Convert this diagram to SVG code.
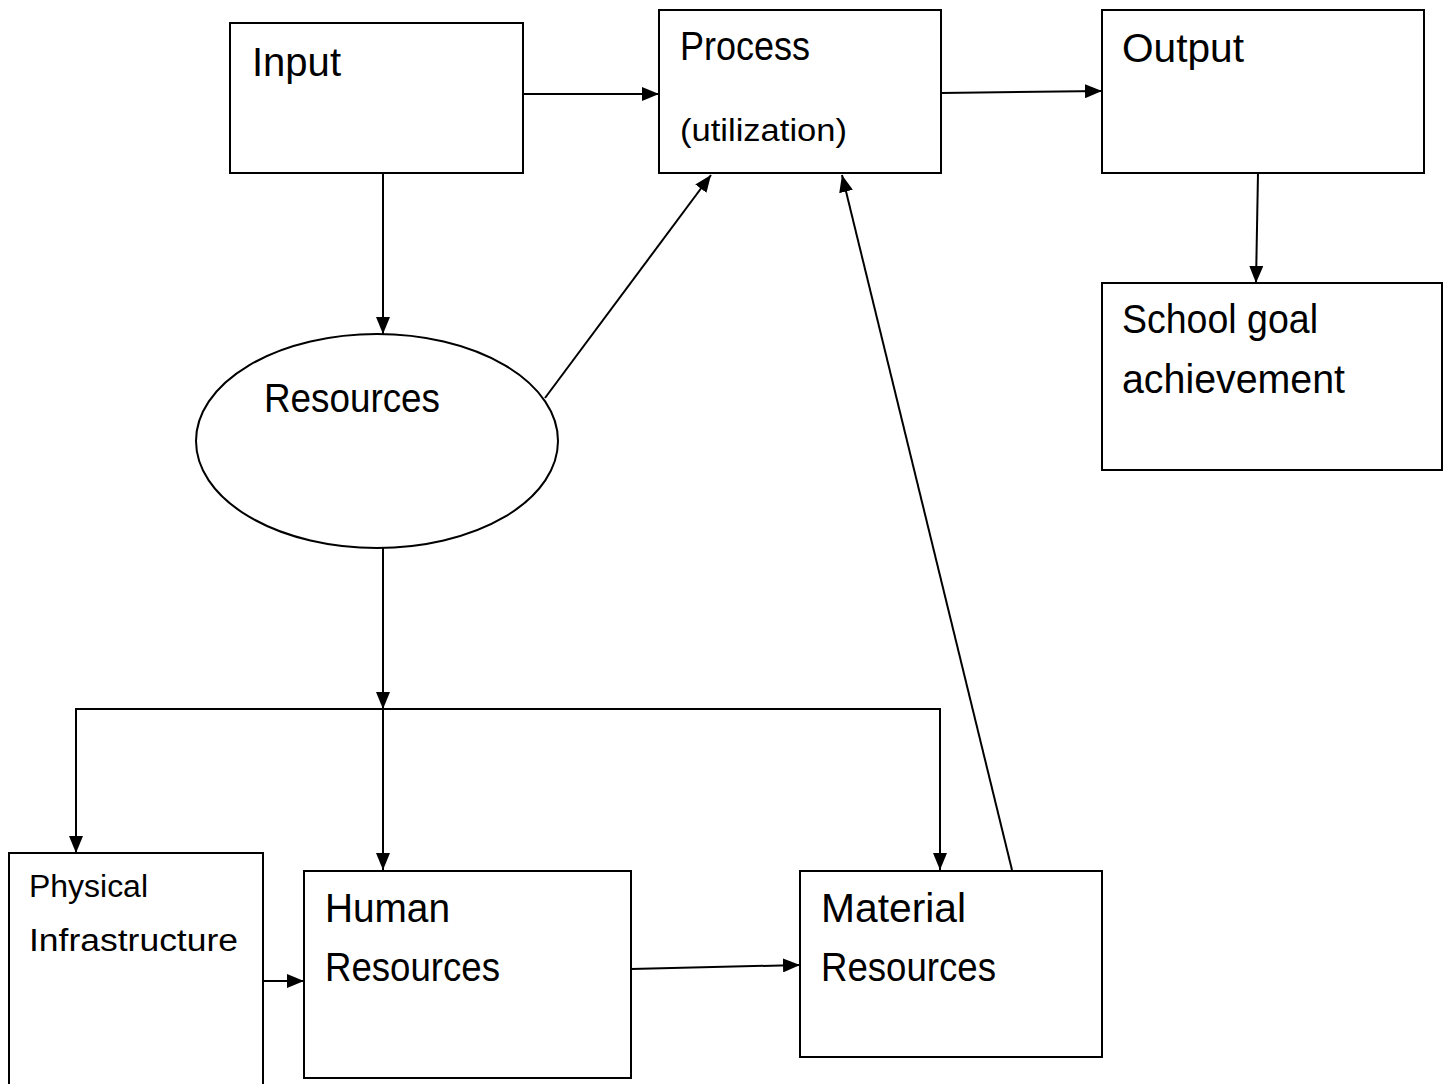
<svg xmlns="http://www.w3.org/2000/svg" width="1448" height="1084" viewBox="0 0 1448 1084">
<style>
.box{fill:#fff;stroke:#000;stroke-width:2}
.c{fill:none;stroke:#000;stroke-width:2}
.t{font-family:"Liberation Sans",Arial,sans-serif;font-size:40px;fill:#000}
.s{font-size:31px}
</style>
<defs>
<marker id="ah" viewBox="0 0 17 14" refX="17" refY="7" markerWidth="17" markerHeight="14" markerUnits="userSpaceOnUse" orient="auto">
<path d="M0,0 L17,7 L0,14 Z" fill="#000"/>
</marker>
</defs>
<rect width="1448" height="1084" fill="#fff"/>
<g id="connectors">
<line class="c" x1="523" y1="94" x2="659" y2="94" marker-end="url(#ah)"/>
<line class="c" x1="941" y1="93" x2="1102" y2="91" marker-end="url(#ah)"/>
<line class="c" x1="1258" y1="173" x2="1256" y2="283" marker-end="url(#ah)"/>
<line class="c" x1="383" y1="173" x2="383" y2="334" marker-end="url(#ah)"/>
<line class="c" x1="545" y1="398" x2="711" y2="175" marker-end="url(#ah)"/>
<line class="c" x1="1012" y1="870" x2="842" y2="175" marker-end="url(#ah)"/>
<line class="c" x1="383" y1="548" x2="383" y2="709" marker-end="url(#ah)"/>
<polyline class="c" points="383,709 76,709 76,853" marker-end="url(#ah)"/>
<polyline class="c" points="383,709 940,709 940,870" marker-end="url(#ah)"/>
<line class="c" x1="383" y1="709" x2="383" y2="870" marker-end="url(#ah)"/>
<line class="c" x1="263" y1="981" x2="304" y2="981" marker-end="url(#ah)"/>
<line class="c" x1="631" y1="969" x2="800" y2="965" marker-end="url(#ah)"/>
</g>
<g id="input"><rect class="box" x="230" y="23" width="293" height="150"/><text class="t" x="252" y="76" textLength="89" lengthAdjust="spacingAndGlyphs">Input</text></g>
<g id="process"><rect class="box" x="659" y="10" width="282" height="163"/><text class="t" x="680" y="60" textLength="130" lengthAdjust="spacingAndGlyphs">Process</text><text class="t s" x="680" y="141" textLength="167" lengthAdjust="spacingAndGlyphs">(utilization)</text></g>
<g id="output"><rect class="box" x="1102" y="10" width="322" height="163"/><text class="t" x="1122" y="62" textLength="122" lengthAdjust="spacingAndGlyphs">Output</text></g>
<g id="school"><rect class="box" x="1102" y="283" width="340" height="187"/><text class="t" x="1122" y="333" textLength="196" lengthAdjust="spacingAndGlyphs">School goal</text><text class="t" x="1122" y="393" textLength="223" lengthAdjust="spacingAndGlyphs">achievement</text></g>
<g id="resources"><ellipse class="box" cx="377" cy="441" rx="181" ry="107"/><text class="t" x="264" y="412" textLength="176" lengthAdjust="spacingAndGlyphs">Resources</text></g>
<g id="physical"><rect class="box" x="9" y="853" width="254" height="240"/><text class="t s" x="29" y="897" textLength="119" lengthAdjust="spacingAndGlyphs">Physical</text><text class="t s" x="29" y="951" textLength="209" lengthAdjust="spacingAndGlyphs">Infrastructure</text></g>
<g id="human"><rect class="box" x="304" y="871" width="327" height="207"/><text class="t" x="325" y="922" textLength="125" lengthAdjust="spacingAndGlyphs">Human</text><text class="t" x="325" y="981" textLength="175" lengthAdjust="spacingAndGlyphs">Resources</text></g>
<g id="material"><rect class="box" x="800" y="871" width="302" height="186"/><text class="t" x="821" y="922" textLength="145" lengthAdjust="spacingAndGlyphs">Material</text><text class="t" x="821" y="981" textLength="175" lengthAdjust="spacingAndGlyphs">Resources</text></g>
</svg>
